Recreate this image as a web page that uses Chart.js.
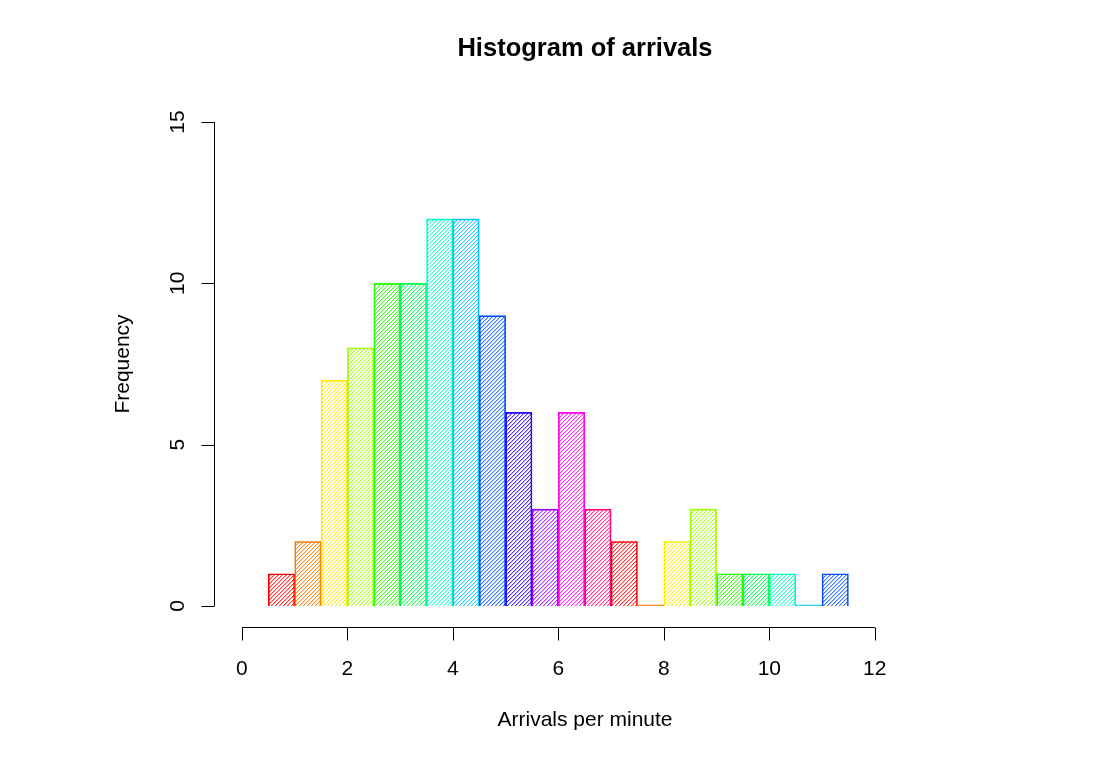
<!DOCTYPE html>
<html>
<head>
<meta charset="utf-8">
<title>Histogram of arrivals</title>
<script src="https://cdn.jsdelivr.net/npm/chart.js@4/dist/chart.umd.min.js"></script>
<style>
  html, body { margin: 0; padding: 0; background: #fff; }
  #hist { display: block; }
</style>
</head>
<body>
<canvas id="hist" width="1108" height="761"></canvas>
<script>
// bin edges and counts
const breaks = [0.5, 1, 1.5, 2, 2.5, 3, 3.5, 4, 4.5, 5, 5.5, 6, 6.5, 7, 7.5, 8, 8.5, 9, 9.5, 10, 10.5, 11, 11.5];
const counts = [1, 2, 7, 8, 10, 10, 12, 12, 9, 6, 3, 6, 3, 2, 0, 2, 3, 1, 1, 1, 0, 1];
const xTicks = [0, 2, 4, 6, 8, 10, 12];
const yTicks = [0, 5, 10, 15];

const FONT = '"Liberation Sans", Arial, Helvetica, sans-serif';
const axisFont = { family: FONT, size: 21 };

// R rainbow(13), recycled along the bins
const rainbow13 = ['#FF0000', '#FF7600', '#FFEB00', '#9DFF00', '#27FF00', '#00FF4E', '#00FFC4',
  '#00C4FF', '#004EFF', '#2700FF', '#9D00FF', '#FF00EB', '#FF0076'];
const colors = counts.map((_, i) => rainbow13[i % rainbow13.length]);

const bars = counts.map((n, i) => ({ x: (breaks[i] + breaks[i + 1]) / 2, y: n }));

// diagonal shading inside each bar, drawn as pixel stairs
const hatchPlugin = {
  id: 'hatch',
  beforeDatasetsDraw(chart) {
    const { ctx } = chart;
    const meta = chart.getDatasetMeta(0);
    const period = 4;
    ctx.save();
    meta.data.forEach((el, i) => {
      const { x, y, base, width } = el.getProps(['x', 'y', 'base', 'width'], true);
      const l = Math.round(x - width / 2), r = Math.round(x + width / 2);
      const t = Math.round(Math.min(y, base)), b = Math.round(Math.max(y, base));
      if (b - t < 2) return;
      ctx.save();
      ctx.beginPath();
      ctx.rect(l, t, r - l, b - t);
      ctx.clip();
      ctx.fillStyle = colors[i];
      for (let row = t; row < b; row++) {
        const start = l - ((l + row) % period) - period;
        ctx.globalAlpha = 0.8;
        for (let px = start; px < r; px += period) ctx.fillRect(px, row, 1, 1);
        ctx.globalAlpha = 0.3;
        for (let px = start; px < r; px += period) ctx.fillRect(px + 1, row, 1, 1);
      }
      ctx.restore();
    });
    ctx.restore();
  }
};

const axesPlugin = {
  id: 'rAxes',
  afterDraw(chart) {
    const { ctx, chartArea } = chart;
    const xs = chart.scales.x, ys = chart.scales.y;
    ctx.save();
    ctx.strokeStyle = '#000';
    ctx.lineWidth = 1;
    const tick = 13;

    // x axis
    const yb = Math.round(ys.getPixelForValue(-0.65)) + 0.5;
    ctx.beginPath();
    ctx.moveTo(xs.getPixelForValue(xTicks[0]), yb);
    ctx.lineTo(xs.getPixelForValue(xTicks[xTicks.length - 1]), yb);
    xTicks.forEach(v => {
      const px = Math.round(xs.getPixelForValue(v)) + 0.5;
      ctx.moveTo(px, yb); ctx.lineTo(px, yb + tick);
    });
    ctx.stroke();

    // y axis
    const xl = Math.round(chartArea.left) + 0.5;
    ctx.beginPath();
    ctx.moveTo(xl, ys.getPixelForValue(yTicks[0]));
    ctx.lineTo(xl, ys.getPixelForValue(yTicks[yTicks.length - 1]));
    yTicks.forEach(v => {
      const py = Math.round(ys.getPixelForValue(v)) + 0.5;
      ctx.moveTo(xl, py); ctx.lineTo(xl - tick, py);
    });
    ctx.stroke();

    // y tick labels, rotated like R
    ctx.fillStyle = '#000';
    ctx.font = `21px ${FONT}`;
    ctx.textAlign = 'center';
    ctx.textBaseline = 'middle';
    yTicks.forEach(v => {
      ctx.save();
      ctx.translate(xl - 36, ys.getPixelForValue(v));
      ctx.rotate(-Math.PI / 2);
      ctx.fillText(String(v), 0, 0);
      ctx.restore();
    });

    // main title
    ctx.font = `bold 25.5px ${FONT}`;
    ctx.fillText('Histogram of arrivals', (chartArea.left + chartArea.right) / 2, 49);
    ctx.restore();
  }
};

new Chart(document.getElementById('hist'), {
  type: 'bar',
  data: {
    datasets: [{
      data: bars,
      backgroundColor: 'rgba(0,0,0,0)',
      borderColor: colors,
      borderWidth: 1,
      barPercentage: 1,
      categoryPercentage: 1,
      minBarLength: 1.2
    }]
  },
  options: {
    responsive: false,
    animation: false,
    devicePixelRatio: 1,
    layout: { padding: { left: 0, right: 152, top: 122, bottom: 0 } },
    plugins: {
      legend: { display: false },
      tooltip: { enabled: false },
      title: { display: false }
    },
    scales: {
      x: {
        type: 'linear',
        offset: false,
        min: -0.53,
        max: 13.54,
        grid: { display: false },
        border: { display: false },
        afterBuildTicks: s => { s.ticks = xTicks.map(v => ({ value: v })); },
        afterFit: s => { s.height = 155; },
        ticks: { padding: 43, font: axisFont, color: '#000', maxRotation: 0, autoSkip: false },
        title: { display: true, text: 'Arrivals per minute', font: axisFont, color: '#000', padding: { top: 0, bottom: 28 } }
      },
      y: {
        min: 0,
        max: 15,
        grid: { display: false },
        border: { display: false },
        afterBuildTicks: s => { s.ticks = yTicks.map(v => ({ value: v })); },
        afterFit: s => { s.width = 214; },
        ticks: { display: false },
        title: { display: true, text: 'Frequency', font: axisFont, color: '#000', padding: { top: 111, bottom: 0 } }
      }
    }
  },
  plugins: [hatchPlugin, axesPlugin]
});
</script>
</body>
</html>
